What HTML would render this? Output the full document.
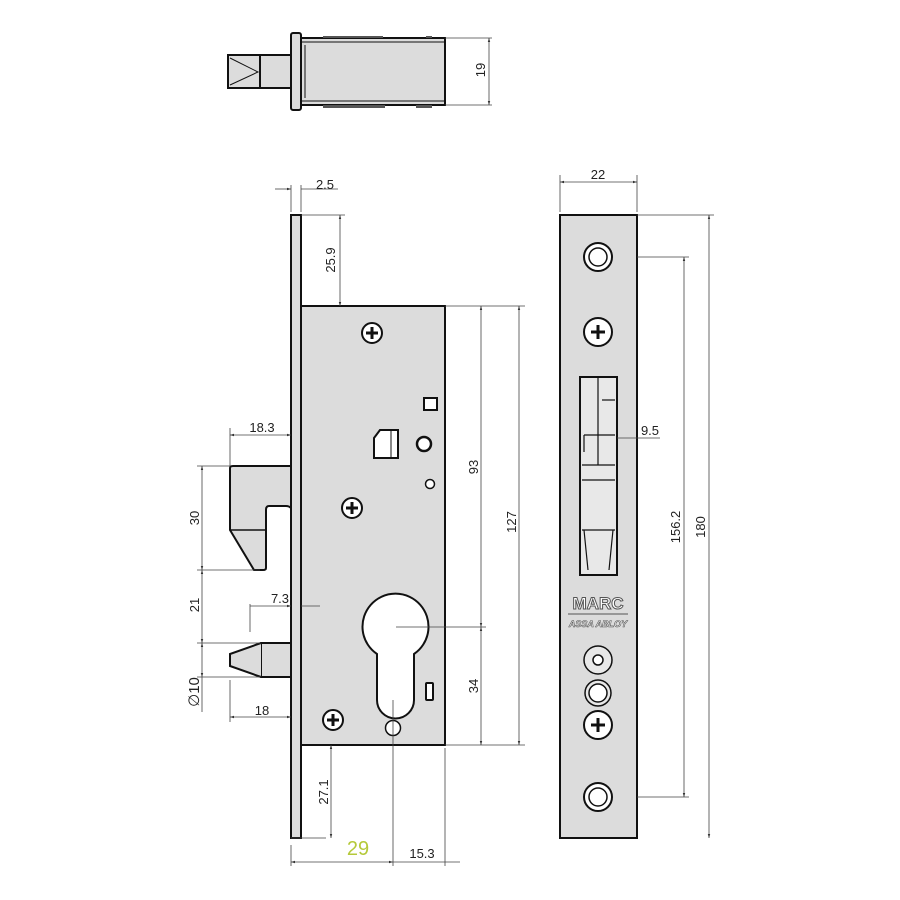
<!DOCTYPE html>
<html><head><style>body{margin:0;background:#fff}svg{display:block}</style></head><body>
<svg width="900" height="900" viewBox="0 0 900 900" xmlns="http://www.w3.org/2000/svg" font-family="Liberation Sans, sans-serif" font-size="13">
<defs>
<marker id="a" viewBox="0 0 10 10" refX="10" refY="5" markerWidth="7" markerHeight="5" orient="auto-start-reverse"><path d="M0,2 L10,5 L0,8z" fill="#333"/></marker>
</defs>
<g fill="#dcdcdc" stroke="#111" stroke-width="2">
<!-- top view -->
<rect x="301" y="38" width="144" height="67"/>
<line x1="301" y1="42" x2="445" y2="42" stroke-width="1"/>
<line x1="301" y1="101" x2="445" y2="101" stroke-width="1"/>
<rect x="260" y="55" width="31" height="33"/>
<rect x="228" y="55" width="32" height="33"/>
<path d="M230,58 L258,72 L230,85" fill="none" stroke-width="1"/>
<rect x="291" y="33" width="10" height="77" rx="2"/>
<line x1="305" y1="45" x2="305" y2="98" stroke-width="1"/>
<g fill="#555" stroke="none"><rect x="323" y="36" width="60" height="2"/><rect x="323" y="105" width="62" height="3"/><rect x="416" y="105" width="16" height="3"/><rect x="426" y="36" width="6" height="2"/></g>
<!-- main body -->
<rect x="291" y="215" width="10" height="623"/>
<rect x="301" y="306" width="144" height="439"/>
<path d="M230,468 Q230,466 233,466 L291,466 L291,508 Q289,506 286,506 L269,506 Q266,506 266,510 L266,568 Q266,570 263,570 L254,570 L230,530 Z"/>
<line x1="230" y1="530" x2="266" y2="530" stroke-width="1.5"/>
<rect x="261" y="643" width="30" height="34"/>
<path d="M261,643 L230,654 L230,666 L261,677" />
<path d="M377,654 A33,33 0 1 1 414,654 L414,700 A18.5,18.5 0 0 1 377,700 Z" fill="#fff"/>
<path d="M374,438 L380,430 L398,430 L398,458 L374,458 Z" fill="#fff"/>
<line x1="391" y1="430" x2="391" y2="458" stroke-width="1"/>
<rect x="424" y="398" width="13" height="12" fill="#fff"/>
<rect x="426" y="683" width="7" height="17" fill="#fff" rx="1"/>
<circle cx="424" cy="444" r="7" fill="#fff" stroke-width="2.5"/>
<circle cx="430" cy="484" r="4.5" fill="#fff" stroke-width="1.5"/>
<circle cx="393" cy="728" r="7.5" fill="#fff" stroke-width="1.5"/>
<!-- faceplate front -->
<rect x="560" y="215" width="77" height="623"/>
<rect x="580" y="377" width="37" height="198" fill="#e8e8e8"/>
<g fill="none" stroke-width="1.2">
<line x1="582" y1="480" x2="615" y2="480"/><line x1="582" y1="465" x2="615" y2="465"/><line x1="582" y1="530" x2="615" y2="530"/>
<line x1="584" y1="530" x2="588" y2="570"/><line x1="613" y1="530" x2="609" y2="570"/>
<line x1="584" y1="435" x2="615" y2="435"/><line x1="598" y1="377" x2="598" y2="465"/><line x1="602" y1="400" x2="615" y2="400"/>
<line x1="584" y1="435" x2="584" y2="452"/>
</g>
<circle cx="598" cy="257" r="14" fill="#fff"/><circle cx="598" cy="257" r="9" fill="#fff" stroke-width="1.5"/>
<circle cx="598" cy="660" r="14" fill="#e8e8e8" stroke-width="1.5"/><circle cx="598" cy="660" r="5" fill="#fff" stroke-width="1.5"/>
<circle cx="598" cy="693" r="13" fill="#e8e8e8" stroke-width="1.5"/><circle cx="598" cy="693" r="9" fill="#fff" stroke-width="1.5"/>
<circle cx="598" cy="797" r="14" fill="#fff"/><circle cx="598" cy="797" r="9" fill="#fff" stroke-width="1.5"/>
</g>
<!-- screws -->
<g fill="#fff" stroke="#111" stroke-width="2">
<circle cx="372" cy="333" r="10"/><circle cx="352" cy="508" r="10"/><circle cx="333" cy="720" r="10"/><circle cx="598" cy="332" r="14"/><circle cx="598" cy="725" r="14"/>
</g>
<g fill="none" stroke="#111" stroke-width="3">
<path d="M366,333 h12 M372,327 v12"/><path d="M346,508 h12 M352,502 v12"/><path d="M327,720 h12 M333,714 v12"/><path d="M591,332 h14 M598,325 v14"/><path d="M591,725 h14 M598,718 v14"/>
</g>
<text x="598" y="609" text-anchor="middle" font-size="17" fill="#fff" stroke="#555" stroke-width="1" font-weight="bold">MARC</text>
<line x1="568" y1="614" x2="628" y2="614" stroke="#555"/>
<text x="598" y="627" text-anchor="middle" font-size="9" fill="#fff" stroke="#555" stroke-width=".6" font-style="italic" font-weight="bold">ASSA ABLOY</text>
<!-- dimension lines -->
<g stroke="#444" stroke-width="0.8" fill="none">
<path d="M445,38 H492 M445,105 H492 M301,215 H345 M445,306 H525 M445,745 H525 M396,627 H486 M301,606 H320 M637,215 H714 M637,257 H689 M637,797 H689 M560,175 V212 M637,175 V212 M291,185 V212 M301,185 V212 M617,438 H660 M230,428 V466 M230,680 V722 M250,604 V632 M197,466 H230 M197,570 H260 M197,643 H261 M197,677 H261 M291,845 V866 M393,700 V866 M445,748 V866 M326,838 H291"/>
<line x1="489" y1="38" x2="489" y2="105" marker-start="url(#a)" marker-end="url(#a)"/>
<line x1="340" y1="215" x2="340" y2="306" marker-start="url(#a)" marker-end="url(#a)"/>
<line x1="481" y1="306" x2="481" y2="627" marker-start="url(#a)" marker-end="url(#a)"/>
<line x1="481" y1="627" x2="481" y2="745" marker-start="url(#a)" marker-end="url(#a)"/>
<line x1="519" y1="306" x2="519" y2="745" marker-start="url(#a)" marker-end="url(#a)"/>
<line x1="331" y1="745" x2="331" y2="838" marker-start="url(#a)" marker-end="url(#a)"/>
<line x1="684" y1="257" x2="684" y2="797" marker-start="url(#a)" marker-end="url(#a)"/>
<line x1="709" y1="215" x2="709" y2="838" marker-start="url(#a)" marker-end="url(#a)"/>
<line x1="560" y1="182" x2="637" y2="182" marker-start="url(#a)" marker-end="url(#a)"/>
<line x1="230" y1="435" x2="291" y2="435" marker-start="url(#a)" marker-end="url(#a)"/>
<line x1="230" y1="717" x2="291" y2="717" marker-start="url(#a)" marker-end="url(#a)"/>
<line x1="202" y1="466" x2="202" y2="570" marker-start="url(#a)" marker-end="url(#a)"/>
<line x1="202" y1="570" x2="202" y2="643" marker-start="url(#a)" marker-end="url(#a)"/>
<line x1="202" y1="643" x2="202" y2="677" marker-start="url(#a)" marker-end="url(#a)"/>
<line x1="202" y1="677" x2="202" y2="712"/>
<line x1="291" y1="862" x2="393" y2="862" marker-start="url(#a)" marker-end="url(#a)"/>
<line x1="393" y1="862" x2="460" y2="862"/>
<line x1="275" y1="189" x2="291" y2="189" marker-end="url(#a)"/>
<line x1="301" y1="189" x2="338" y2="189"/>
<line x1="250" y1="606" x2="291" y2="606" marker-end="url(#a)"/>
</g>
<g fill="#222">
<text x="325" y="189" text-anchor="middle">2.5</text>
<text x="598" y="179" text-anchor="middle">22</text>
<text x="262" y="432" text-anchor="middle">18.3</text>
<text x="280" y="603" text-anchor="middle">7.3</text>
<text x="262" y="715" text-anchor="middle">18</text>
<text x="650" y="435" text-anchor="middle">9.5</text>
<text x="422" y="858" text-anchor="middle">15.3</text>
<text x="358" y="855" text-anchor="middle" font-size="20" fill="#b5c93a">29</text>
<text transform="translate(485,70) rotate(-90)" text-anchor="middle">19</text>
<text transform="translate(335,260) rotate(-90)" text-anchor="middle">25.9</text>
<text transform="translate(478,467) rotate(-90)" text-anchor="middle">93</text>
<text transform="translate(516,522) rotate(-90)" text-anchor="middle">127</text>
<text transform="translate(478,686) rotate(-90)" text-anchor="middle">34</text>
<text transform="translate(328,792) rotate(-90)" text-anchor="middle">27.1</text>
<text transform="translate(680,527) rotate(-90)" text-anchor="middle">156.2</text>
<text transform="translate(705,527) rotate(-90)" text-anchor="middle">180</text>
<text transform="translate(199,518) rotate(-90)" text-anchor="middle">30</text>
<text transform="translate(199,605) rotate(-90)" text-anchor="middle">21</text>
<text transform="translate(199,692) rotate(-90)" text-anchor="middle" font-size="15">∅10</text>
</g>
</svg>
</body></html>
